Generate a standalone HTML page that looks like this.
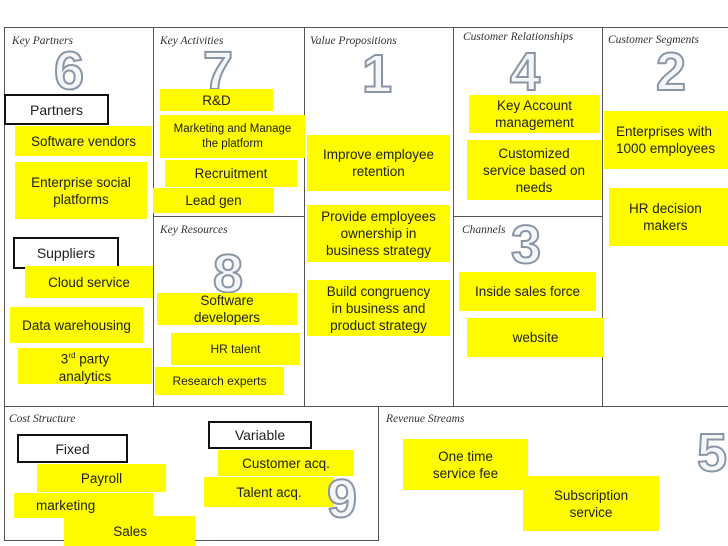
<!DOCTYPE html>
<html><head><meta charset="utf-8"><style>
body{margin:0;width:728px;height:546px;background:#fff;position:relative;overflow:hidden;font-family:"Liberation Sans",sans-serif}
div{position:absolute;box-sizing:border-box}
.l{background:#555}
.y{background:#fffc00;color:#222;font-size:13.5px;line-height:17px;text-align:center;display:flex;align-items:center;justify-content:center;padding:0 2px}
.b{border:2px solid #111;background:#fff;font-size:14px;display:flex;align-items:center;justify-content:center;color:#222}
.t{font-family:"Liberation Serif",serif;font-style:italic;font-size:11.5px;color:#333}
.n{font-size:54px;line-height:54px;font-weight:bold;color:#f4f6f8;-webkit-text-stroke:2px #8a96a6;font-family:"Liberation Sans",sans-serif}
</style></head><body>
<div class="l" style="left:4px;top:27px;width:724px;height:1px"></div>
<div class="l" style="left:4px;top:27px;width:1px;height:514px"></div>
<div class="l" style="left:153px;top:27px;width:1px;height:379px"></div>
<div class="l" style="left:304px;top:27px;width:1px;height:379px"></div>
<div class="l" style="left:453px;top:27px;width:1px;height:379px"></div>
<div class="l" style="left:602px;top:27px;width:1px;height:379px"></div>
<div class="l" style="left:153px;top:216px;width:151px;height:1px"></div>
<div class="l" style="left:453px;top:216px;width:149px;height:1px"></div>
<div class="l" style="left:4px;top:406px;width:724px;height:1px"></div>
<div class="l" style="left:378px;top:406px;width:1px;height:135px"></div>
<div class="l" style="left:4px;top:540px;width:375px;height:1px"></div>

<div class="t" style="left:12px;top:35px">Key Partners</div>
<div class="t" style="left:160px;top:35px">Key Activities</div>
<div class="t" style="left:310px;top:35px">Value Propositions</div>
<div class="t" style="left:463px;top:31px">Customer Relationships</div>
<div class="t" style="left:608px;top:34px">Customer Segments</div>
<div class="t" style="left:160px;top:224px">Key Resources</div>
<div class="t" style="left:462px;top:224px">Channels</div>
<div class="t" style="left:9px;top:413px">Cost Structure</div>
<div class="t" style="left:386px;top:413px">Revenue Streams</div>

<div class="n" style="left:54px;top:44px">6</div>
<div class="n" style="left:203px;top:44px">7</div>
<div class="n" style="left:362px;top:47px">1</div>
<div class="n" style="left:510px;top:45px">4</div>
<div class="n" style="left:656px;top:45px">2</div>
<div class="n" style="left:511px;top:218px">3</div>
<div class="n" style="left:213px;top:247px">8</div>
<div class="n" style="left:697px;top:426px">5</div>

<div class="b" style="left:4px;top:94px;width:105px;height:31px">Partners</div>
<div class="y" style="left:15px;top:126px;width:137px;height:30px">Software vendors</div>
<div class="y" style="left:15px;top:162px;width:132px;height:57px">Enterprise social<br>platforms</div>
<div class="b" style="left:13px;top:237px;width:106px;height:32px">Suppliers</div>
<div class="y" style="left:25px;top:266px;width:128px;height:32px">Cloud service</div>
<div class="y" style="left:10px;top:307px;width:133px;height:36px">Data warehousing</div>
<div class="y" style="left:18px;top:348px;width:134px;height:36px"><span>3<sup style="font-size:8px">rd</sup> party<br>analytics</span></div>

<div class="y" style="left:160px;top:89px;width:113px;height:22px">R&amp;D</div>
<div class="y" style="left:160px;top:115px;width:145px;height:43px;font-size:11.5px;line-height:15px">Marketing and Manage<br>the platform</div>
<div class="y" style="left:165px;top:160px;width:132px;height:27px">Recruitment</div>
<div class="y" style="left:153px;top:188px;width:121px;height:25px">Lead gen</div>
<div class="y" style="left:157px;top:293px;width:140px;height:32px">Software<br>developers</div>
<div class="y" style="left:171px;top:333px;width:129px;height:32px;font-size:12px">HR talent</div>
<div class="y" style="left:155px;top:367px;width:129px;height:28px;font-size:12px">Research experts</div>

<div class="y" style="left:307px;top:135px;width:143px;height:56px">Improve employee<br>retention</div>
<div class="y" style="left:307px;top:205px;width:143px;height:57px">Provide employees<br>ownership in<br>business strategy</div>
<div class="y" style="left:307px;top:280px;width:143px;height:56px">Build congruency<br>in business and<br>product strategy</div>

<div class="y" style="left:469px;top:95px;width:131px;height:38px">Key Account<br>management</div>
<div class="y" style="left:467px;top:140px;width:134px;height:60px">Customized<br>service based on<br>needs</div>
<div class="y" style="left:459px;top:272px;width:137px;height:39px">Inside sales force</div>
<div class="y" style="left:467px;top:318px;width:137px;height:39px">website</div>

<div class="y" style="left:604px;top:111px;width:124px;height:58px;justify-content:flex-start;text-align:left;padding-left:12px">Enterprises with<br>1000 employees</div>
<div class="y" style="left:609px;top:188px;width:119px;height:58px;justify-content:flex-start;padding-left:20px">HR decision<br>makers</div>

<div class="b" style="left:17px;top:434px;width:111px;height:29px">Fixed</div>
<div class="y" style="left:37px;top:464px;width:129px;height:28px">Payroll</div>
<div class="y" style="left:14px;top:493px;width:139px;height:25px;justify-content:flex-start;padding-left:22px">marketing</div>
<div class="y" style="left:64px;top:516px;width:131px;height:30px;justify-content:flex-end;padding-right:48px">Sales</div>
<div class="b" style="left:208px;top:421px;width:104px;height:28px">Variable</div>
<div class="y" style="left:218px;top:450px;width:136px;height:26px">Customer acq.</div>
<div class="y" style="left:204px;top:477px;width:130px;height:30px">Talent acq.</div>
<div class="n" style="left:327px;top:472px">9</div>

<div class="y" style="left:403px;top:439px;width:125px;height:51px">One time<br>service fee</div>
<div class="y" style="left:523px;top:476px;width:136px;height:55px">Subscription<br>service</div>
</body></html>
